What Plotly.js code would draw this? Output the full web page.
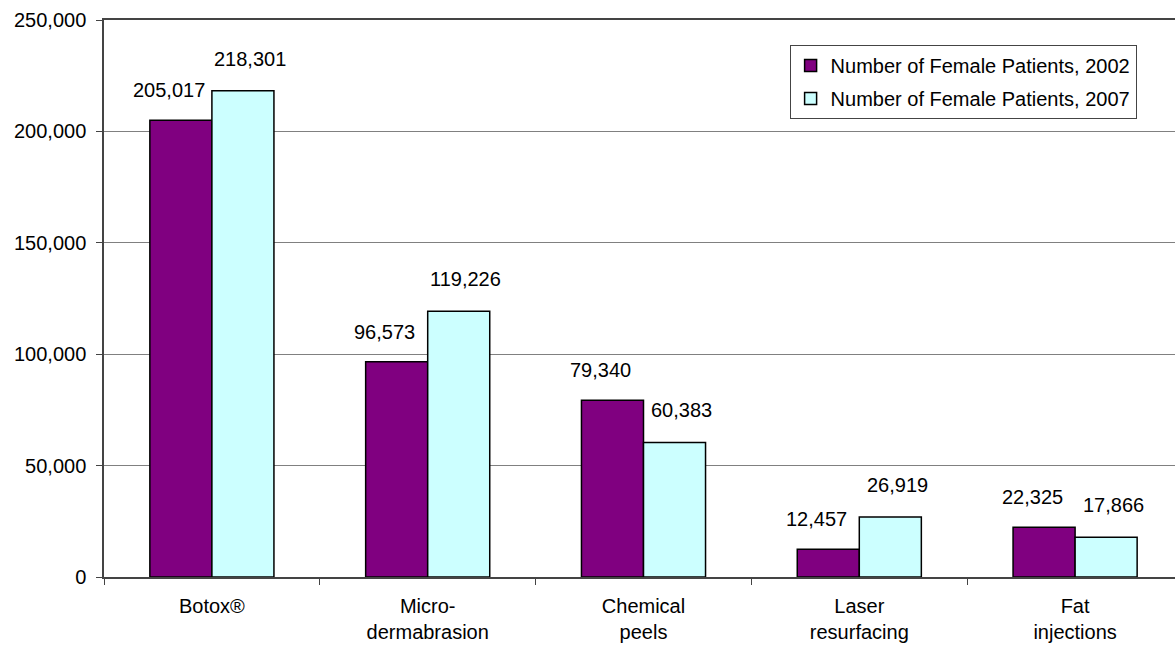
<!DOCTYPE html>
<html>
<head>
<meta charset="utf-8">
<script src="https://cdn.plot.ly/plotly-3.0.1.min.js"></script>
<style>
html, body { margin: 0; padding: 0; overflow: hidden; background: #fff; }
#chart { width: 1183px; height: 652px; }
</style>
</head>
<body>
<div id="chart"></div>
<script>
const categories = ["Botox®", "Micro-<br>dermabrasion", "Chemical<br>peels", "Laser<br>resurfacing", "Fat<br>injections"];
const seriesNames = ["Number of Female Patients, 2002", "Number of Female Patients, 2007"];
const patients2002 = [205017, 96573, 79340, 12457, 22325];
const patients2007 = [218301, 119226, 60383, 26919, 17866];
const yTickValues = [0, 50000, 100000, 150000, 200000, 250000];

const FONT = "Liberation Sans, Arial, sans-serif";
const FS = 20;
const W = 1183, H = 652;
const margin = {l: 104, r: 0, t: 20, b: 75};
const bargap = 0.425;
const catWidth = (W - margin.l - margin.r) / categories.length;
const barPx = catWidth * (1 - bargap) / 2;

const fmt = v => v.toLocaleString("en-US");

const traces = [
  {type: "bar", name: seriesNames[0], x: categories, y: patients2002, legendgroup: "a",
   marker: {color: "#800080", line: {color: "#000", width: 1.5}}, hoverinfo: "x+y"},
  {type: "bar", name: seriesNames[1], x: categories, y: patients2007, legendgroup: "b",
   marker: {color: "#CCFFFF", line: {color: "#000", width: 1.5}}, hoverinfo: "x+y"}
];

const annotations = [];
categories.forEach((c, i) => {
  annotations.push({x: c, y: patients2002[i], xref: "x", yref: "y", text: fmt(patients2002[i]),
    showarrow: false, xshift: -barPx / 2 - 12, yshift: 30, yanchor: "middle",
    font: {family: FONT, size: FS, color: "#000"}});
  annotations.push({x: c, y: patients2007[i], xref: "x", yref: "y", text: fmt(patients2007[i]),
    showarrow: false, xshift: barPx / 2 + 7, yshift: 32, yanchor: "middle",
    font: {family: FONT, size: FS, color: "#000"}});
});

const layout = {
  width: W, height: H,
  margin: margin,
  paper_bgcolor: "#fff", plot_bgcolor: "#fff",
  font: {family: FONT, size: FS, color: "#000"},
  barmode: "group",
  bargap: bargap,
  bargroupgap: 0,
  showlegend: true,
  legend: {
    x: 0.957, xanchor: "right", y: 0.955, yanchor: "top",
    bgcolor: "#fff", bordercolor: "#444", borderwidth: 1,
    font: {family: FONT, size: FS, color: "#000"},
    traceorder: "grouped", tracegroupgap: 4,
    itemwidth: 30,
    itemclick: false
  },
  xaxis: {
    type: "category",
    showgrid: false,
    tickson: "boundaries",
    ticks: "outside", ticklen: 6, tickcolor: "#444", tickwidth: 1,
    showline: true, linecolor: "#444", linewidth: 1.5, mirror: true,
    ticklabelstandoff: 10,
    tickfont: {family: FONT, size: FS, color: "#000"}
  },
  yaxis: {
    range: [0, 250000],
    tickvals: yTickValues,
    ticktext: yTickValues.map(fmt),
    showgrid: true, gridcolor: "#808080", gridwidth: 1,
    zeroline: false,
    ticks: "outside", ticklen: 6, tickcolor: "#444",
    showline: true, linecolor: "#444", linewidth: 1.5,
    ticklabelstandoff: 6,
    tickfont: {family: FONT, size: FS, color: "#000"}
  },
  annotations: annotations
};

Plotly.newPlot("chart", traces, layout, {displayModeBar: false});
</script>
</body>
</html>
